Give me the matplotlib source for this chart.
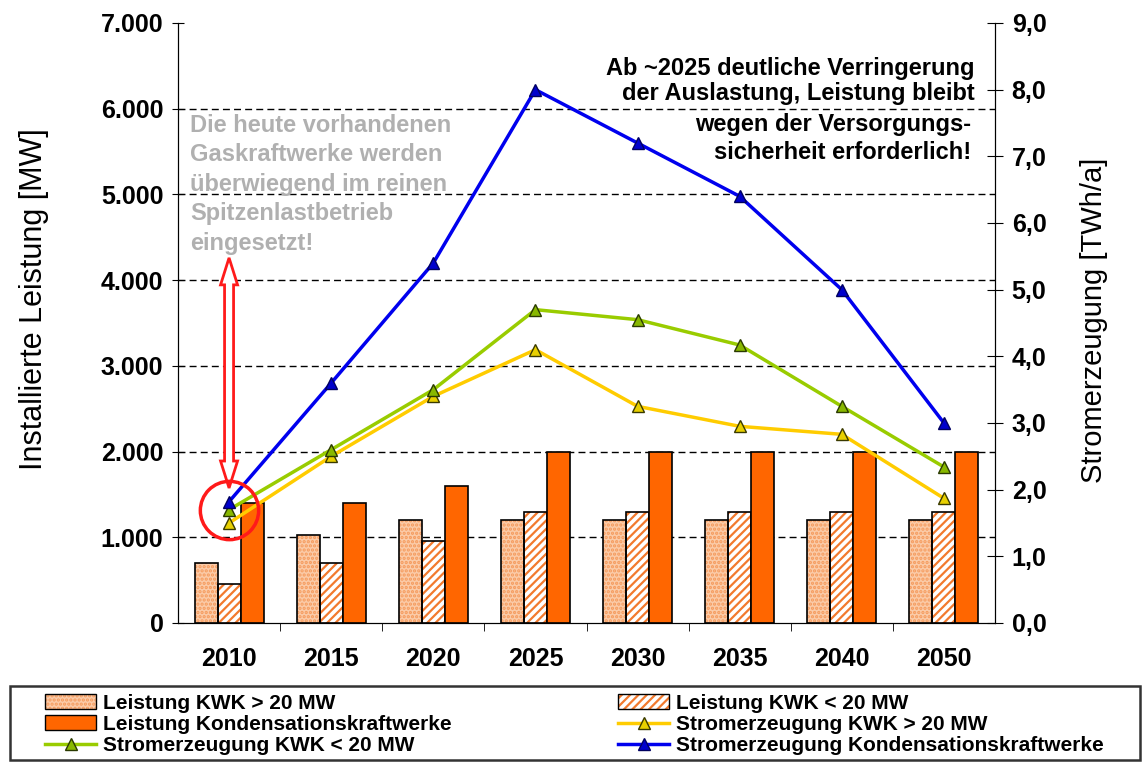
import matplotlib
matplotlib.use("Agg")
import matplotlib.pyplot as plt
from matplotlib.patches import Patch, Polygon, Rectangle
from matplotlib.ticker import FuncFormatter, FixedLocator
import numpy as np

plt.rcParams['font.family'] = ['Liberation Sans', 'DejaVu Sans']
plt.rcParams['hatch.linewidth'] = 1.6

years = ['2010', '2015', '2020', '2025', '2030', '2035', '2040', '2050']

# installed capacity [MW]
kwk_gross = [700, 1030, 1200, 1200, 1200, 1200, 1200, 1200]
kwk_klein = [450, 700, 960, 1300, 1300, 1300, 1300, 1300]
kondensation = [1400, 1400, 1600, 2000, 2000, 2000, 2000, 2000]

# generation [TWh/a]
strom_gross = [1.5, 2.5, 3.4, 4.1, 3.25, 2.95, 2.83, 1.87]
strom_klein = [1.7, 2.6, 3.5, 4.7, 4.55, 4.17, 3.25, 2.34]
strom_kond = [1.82, 3.6, 5.4, 8.0, 7.2, 6.4, 5.0, 3.0]

# range of the red double arrow at 2010 [MW]
arrow_top = 4260
arrow_bottom = 1575

W, H = 1146, 762
x = np.arange(len(years))
w = 0.225

fig = plt.figure(figsize=(W / 100, H / 100), dpi=100)
ax = fig.add_axes([178 / W, 1 - 623 / H, 817 / W, 600 / H])

c_light = '#FBCBA8'
c_hatch = '#F27A2E'
c_kond = '#FF6600'

# bars: hatch layer first, then black outline
ax.bar(x - w, kwk_gross, w, color=c_light, edgecolor='#F59A5C', hatch='....', lw=0, zorder=2)
ax.bar(x - w, kwk_gross, w, fill=False, edgecolor='black', lw=1.2, zorder=3)
ax.bar(x, kwk_klein, w, color='white', edgecolor=c_hatch, hatch='////', lw=0, zorder=2)
ax.bar(x, kwk_klein, w, fill=False, edgecolor='black', lw=1.2, zorder=3)
ax.bar(x + w, kondensation, w, color=c_kond, edgecolor='black', lw=1.2, zorder=3)

ax.set_xlim(-0.5, len(years) - 0.5)
ax.set_ylim(0, 7000)
ax.set_yticks(np.arange(0, 7001, 1000))
ax.yaxis.set_major_formatter(FuncFormatter(lambda v, p: f'{v:,.0f}'.replace(',', '.')))
for yv in range(1000, 7000, 1000):
    ax.axhline(yv, color='black', lw=1, ls=(0, (5, 3)), zorder=1)

ax.set_xticks(x)
ax.set_xticklabels(years, fontsize=18, fontweight='bold')
ax.tick_params(axis='x', which='major', length=0, pad=17)
ax.xaxis.set_minor_locator(FixedLocator(x[1:] - 0.5))
ax.tick_params(axis='x', which='minor', length=6, direction='out')
ax.tick_params(axis='y', labelsize=18, length=9, direction='inout', pad=6)
for t in ax.get_yticklabels():
    t.set_fontweight('bold')
ax.spines['top'].set_visible(False)
ax.set_ylabel('Installierte Leistung [MW]', fontsize=22)
ax.yaxis.set_label_coords(-0.158, 0.54)

ax2 = ax.twinx()
ax2.set_ylim(0, 9)
ax2.set_yticks(np.arange(0, 9.01, 1))
ax2.yaxis.set_major_formatter(FuncFormatter(lambda v, p: f'{v:.1f}'.replace('.', ',')))
ax2.tick_params(axis='y', labelsize=18, length=12, direction='inout', pad=6)
for t in ax2.get_yticklabels():
    t.set_fontweight('bold')
ax2.spines['top'].set_visible(False)
ax2.set_ylabel('Stromerzeugung [TWh/a]', fontsize=21)
ax2.yaxis.set_label_coords(1.104, 0.505)

l_gross, = ax2.plot(x, strom_gross, color='#FFCC00', lw=2.5, marker='^', ms=8,
                    mfc='#E8D000', mec='#3a3a00', mew=1, zorder=4)
l_klein, = ax2.plot(x, strom_klein, color='#99CC00', lw=2.5, marker='^', ms=8,
                    mfc='#88B800', mec='#2a3a00', mew=1, zorder=5)
l_kond, = ax2.plot(x, strom_kond, color='#0000EE', lw=2.5, marker='^', ms=8,
                   mfc='#0000CC', mec='#000060', mew=1, zorder=6)

# red circle around the 2010 values
ax2.plot(x[0], strom_klein[0], marker='o', ms=42, mfc='none', mec='#FF1A1A', mew=2.5, zorder=7)

# hollow red double arrow (sizes in pixels converted to data units)
px_x = 1 / 102.1
px_y = 7000 / 600
hw, sw, hl = 8.5 * px_x, 4.5 * px_x, 27 * px_y
x0 = x[0]
arrow_pts = [(x0, arrow_top), (x0 + hw, arrow_top - hl), (x0 + sw, arrow_top - hl),
             (x0 + sw, arrow_bottom + hl), (x0 + hw, arrow_bottom + hl), (x0, arrow_bottom),
             (x0 - hw, arrow_bottom + hl), (x0 - sw, arrow_bottom + hl),
             (x0 - sw, arrow_top - hl), (x0 - hw, arrow_top - hl)]
ax.add_patch(Polygon(arrow_pts, closed=True, facecolor='white', edgecolor='#FF1A1A',
                     lw=2, zorder=8))

fig.text(190 / W, 1 - 114 / H, 'Die heute vorhandenen\nGaskraftwerke werden\n'
         'überwiegend im reinen\nSpitzenlastbetrieb\neingesetzt!', fontsize=17,
         color='#B0B0B0', fontweight='bold', va='top', ha='left', linespacing=1.36)
fig.text(975 / W, 1 - 57 / H, 'Ab ~2025 deutliche Verringerung\nder Auslastung, Leistung bleibt',
         fontsize=17, fontweight='bold', va='top', ha='right', linespacing=1.13)
fig.text(971 / W, 1 - 113 / H, 'wegen der Versorgungs-\nsicherheit erforderlich!',
         fontsize=17, fontweight='bold', va='top', ha='right', linespacing=1.26)

# legend: own frame, two frameless columns
fig.patches.append(Rectangle((10 / W, 2 / H), 1130 / W, 74 / H, transform=fig.transFigure,
                             fill=False, edgecolor='#333333', lw=1.8))

h_gross = (Patch(facecolor=c_light, edgecolor='#F59A5C', hatch='....', lw=0),
           Patch(fill=False, edgecolor='black', lw=1))
h_klein = (Patch(facecolor='white', edgecolor=c_hatch, hatch='////', lw=0),
           Patch(fill=False, edgecolor='black', lw=1))
h_kond = Patch(facecolor=c_kond, edgecolor='black', lw=1)

leg_kw = dict(loc='upper left', frameon=False, prop={'size': 15, 'weight': 'bold'},
              handlelength=2.45, handletextpad=0.35, labelspacing=0.1, borderpad=0,
              borderaxespad=0)
leg1 = fig.legend([h_gross, h_kond, l_klein],
                  ['Leistung KWK > 20 MW', 'Leistung Kondensationskraftwerke',
                   'Stromerzeugung KWK < 20 MW'],
                  bbox_to_anchor=(45 / W, 1 - 694 / H), **leg_kw)
leg2 = fig.legend([h_klein, l_gross, l_kond],
                  ['Leistung KWK < 20 MW', 'Stromerzeugung KWK > 20 MW',
                   'Stromerzeugung Kondensationskraftwerke'],
                  bbox_to_anchor=(618 / W, 1 - 694 / H), **leg_kw)

fig.savefig('out.png', dpi=100)
